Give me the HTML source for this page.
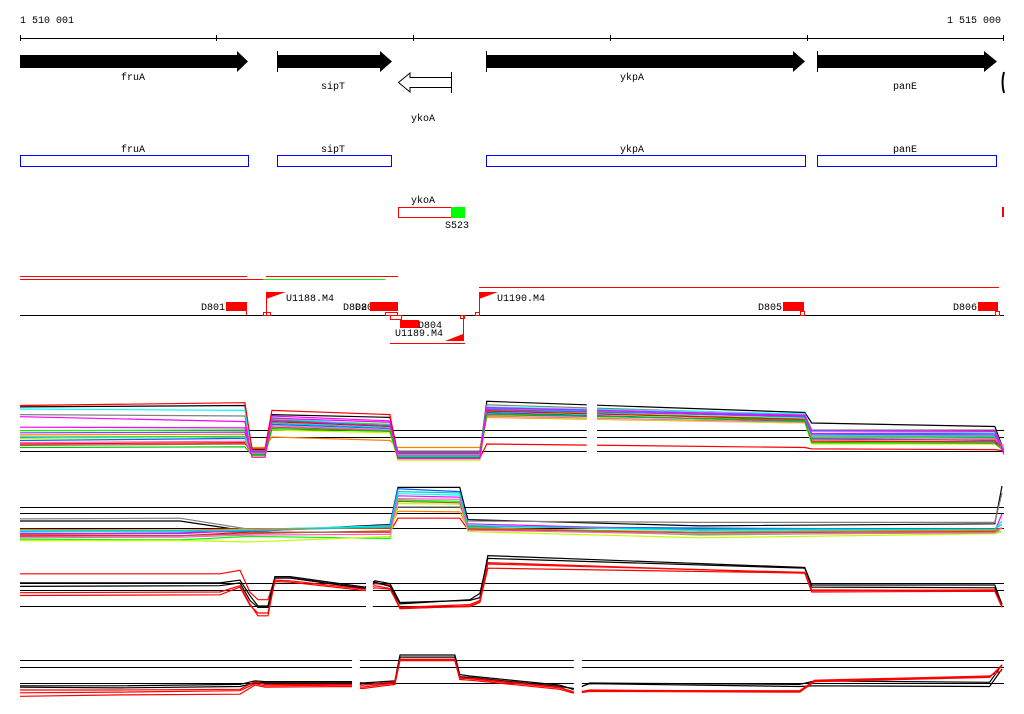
<!DOCTYPE html>
<html><head><meta charset="utf-8"><style>
html,body{margin:0;padding:0;background:#fff;width:1024px;height:714px;overflow:hidden}
svg{display:block}
text{font-family:"Liberation Mono",monospace;font-size:10px;fill:#000}
</style></head><body>
<svg id="chart" width="1024" height="714" viewBox="0 0 1024 714" xmlns="http://www.w3.org/2000/svg">
<g>
<text x="20" y="23">1 510 001</text>
<text x="1001" y="23" text-anchor="end">1 515 000</text>
<line x1="20" y1="38.5" x2="1004" y2="38.5" stroke="#000"/>
<path d="M20.5 35v6M216.5 35v6M413.5 35v6M610.5 35v6M807.5 35v6M1003.5 35v6" stroke="#000"/>
</g>
<g>
<polygon points="20,55 237,55 237,51 248,61.5 237,72 237,68 20,68" fill="#000"/>
<text x="133" y="80" text-anchor="middle">fruA</text>
<polygon points="277,55 380,55 380,51 392,61.5 380,72 380,68 277,68" fill="#000"/>
<line x1="277.5" y1="51" x2="277.5" y2="72" stroke="#000"/>
<text x="333" y="89" text-anchor="middle">sipT</text>
<polygon points="451.5,77.5 410,77.5 410,73 398.5,82.5 410,92 410,87.5 451.5,87.5" fill="#fff" stroke="#000"/>
<line x1="451.5" y1="72" x2="451.5" y2="93" stroke="#000"/>
<text x="423" y="121" text-anchor="middle">ykoA</text>
<polygon points="486,55 793,55 793,51 805,61.5 793,72 793,68 486,68" fill="#000"/>
<line x1="486.5" y1="51" x2="486.5" y2="72" stroke="#000"/>
<text x="632" y="80" text-anchor="middle">ykpA</text>
<polygon points="817,55 984,55 984,51 997,61.5 984,72 984,68 817,68" fill="#000"/>
<line x1="817.5" y1="51" x2="817.5" y2="72" stroke="#000"/>
<text x="905" y="89" text-anchor="middle">panE</text>
<path d="M1004 72 Q1001 82 1004 93" stroke="#000" stroke-width="2" fill="none"/>
</g>
<g>
<rect x="20.5" y="155.5" width="228" height="11" fill="none" stroke="#00f"/>
<text x="133" y="152" text-anchor="middle">fruA</text>
<rect x="277.5" y="155.5" width="114" height="11" fill="none" stroke="#00f"/>
<text x="333" y="152" text-anchor="middle">sipT</text>
<rect x="486.5" y="155.5" width="319" height="11" fill="none" stroke="#00f"/>
<text x="632" y="152" text-anchor="middle">ykpA</text>
<rect x="817.5" y="155.5" width="179" height="11" fill="none" stroke="#00f"/>
<text x="905" y="152" text-anchor="middle">panE</text>
<rect x="398.5" y="207.5" width="53" height="10" fill="none" stroke="#f00"/>
<rect x="451" y="207" width="14" height="11" fill="#0f0"/>
<text x="423" y="203" text-anchor="middle">ykoA</text>
<text x="445" y="228">S523</text>
<rect x="1002" y="207" width="2" height="10" fill="#f00"/>
</g>
<g>
<path d="M20 276.5H247M266 276.5H398M20 279.5H263" stroke="#f00"/>
<path d="M263 279.5H385" stroke="#0f0"/>
<path d="M479 287.5H999M390 343.5H465" stroke="#f00"/>
<line x1="20" y1="315.5" x2="1004" y2="315.5" stroke="#000"/>
<rect x="226" y="302" width="21" height="9" fill="#f00"/>
<path d="M246.5 311v4" stroke="#f00"/>
<text x="225" y="310" text-anchor="end">D801</text>
<path d="M266.5 292v23" stroke="#f00"/>
<polygon points="266,292 286,292 266,299" fill="#f00"/>
<rect x="263.5" y="312.5" width="7" height="3" fill="none" stroke="#f00"/>
<text x="286" y="301">U1188.M4</text>
<text x="343" y="310">D802</text><text x="355" y="310">D803</text>
<rect x="370" y="302" width="28" height="9" fill="#f00"/>
<rect x="385.5" y="312.5" width="12" height="3" fill="none" stroke="#f00"/>
<rect x="390.5" y="315.5" width="11" height="4" fill="none" stroke="#f00"/>
<rect x="400" y="320" width="19" height="8" fill="#f00"/>
<text x="418" y="328">D804</text>
<text x="395" y="336">U1189.M4</text>
<path d="M463.5 316v25" stroke="#f00"/>
<polygon points="463,341 445,341 463,334" fill="#f00"/>
<rect x="460.5" y="315.5" width="4" height="3" fill="none" stroke="#f00"/>
<path d="M479.5 292v23" stroke="#f00"/>
<polygon points="479,292 498,292 479,299" fill="#f00"/>
<rect x="475.5" y="312.5" width="4" height="3" fill="none" stroke="#f00"/>
<text x="497" y="301">U1190.M4</text>
<rect x="783" y="302" width="21" height="9" fill="#f00"/>
<rect x="800.5" y="311.5" width="4" height="4" fill="none" stroke="#f00"/>
<text x="782" y="310" text-anchor="end">D805</text>
<rect x="978" y="302" width="20" height="9" fill="#f00"/>
<rect x="995.5" y="311.5" width="4" height="4" fill="none" stroke="#f00"/>
<text x="977" y="310" text-anchor="end">D806</text>
</g>
<g id="panels"></g>
</svg>
<script>
// genome coordinates are offsets (bp) from 1 510 001
const GENOME_SPAN = 5000;
// Panel 1 (multi-colour profile bundle)
const p1Knots = [0,1143,1179,1245,1280,1880,1920,2337,2372,3988,4023,4953,5000];
const p1Ref = [3,2,0];
const p1Gaps = [[2880,2932]];
const p1Colors = ["#000","#808080","#f0f","#0f0","#0ff","#06f","#ff8000","#f00","#f00","#c0ff00","#a06040","#0cc","#ff60c0","#8040ff","#00c000","#f0f"];
const p1Series = [
 [6.3,6.5,0.2,0.2,5.2,4.8,-0.3,-0.3,7.1,5.5,4,3.5,0],
 [5.2,5.0,0,0,4.2,3.8,0,0,6.6,5.2,3.0,3.0,0],
 [4.9,4.2,-0.8,-0.8,5.0,4.3,-0.6,-0.6,6.0,5.0,2.5,2.5,-0.5],
 [2.9,3.0,-0.6,-0.6,4.5,3.8,-0.9,-0.9,5.8,4.6,2.0,2.0,0],
 [6.0,5.8,-0.2,-0.2,4.8,3.5,-0.4,-0.4,6.3,5.3,2.8,2.6,0],
 [1.5,1.8,-0.2,-0.2,3.8,3.2,-0.9,-0.9,5.5,4.2,1.8,1.5,0.3],
 [2.3,2.4,0.5,0.5,2.0,1.5,0.5,0.5,4.8,4.0,1.2,1.0,0.8],
 [6.5,6.9,0.3,0.3,5.8,5.2,-1.0,-1.0,1.0,0.5,0.3,0.2,0],
 [1.0,1.2,-0.5,-0.5,4.2,3.5,-0.3,-0.3,5.7,4.5,1.4,1.3,0],
 [1.8,2.0,-0.8,-0.8,3.0,2.6,-1.3,-1.3,4.9,4.0,1.0,1.0,0.2],
 [0.8,1.0,0,0,3.4,2.9,-0.2,-0.2,5.2,4.4,1.6,1.6,0.3],
 [2.0,2.1,-0.4,-0.4,4.0,3.3,-0.7,-0.7,6.1,4.8,2.2,2.1,0.1],
 [1.2,1.4,-0.3,-0.3,3.6,3.0,-0.5,-0.5,5.0,4.1,1.9,1.8,0.4],
 [2.6,2.7,-0.1,-0.1,4.4,3.6,-0.2,-0.2,5.9,4.9,2.4,2.3,0],
 [0.5,0.6,-0.6,-0.6,3.2,2.8,-1.0,-1.0,5.3,4.3,1.2,1.1,0],
 [3.4,3.3,-0.9,-0.9,4.7,4.1,-1.1,-1.1,6.2,5.1,2.9,2.8,-0.3]
];
// Panel 2
const p2Knots = [0,813,1168,1880,1920,2235,2276,3455,4953,4990];
const p2Ref = [3,2.1,0];
const p2Gaps = [];
const p2Colors = ["#000","#808080","#06f","#f0f","#f00","#0f0","#0ff","#ff8000","#c0ff00","#a06040","#ff60c0","#0cc"];
const p2Series = [
 [1.0,1.0,-0.5,0.5,5.8,5.8,1.2,0.3,0.6,6],
 [1.3,1.4,-0.2,0.2,3.0,3.0,1.0,0.8,0.8,5],
 [-0.5,-0.6,-0.5,0.4,5.6,5.2,0.2,0.0,-0.2,1],
 [-0.8,-0.8,-0.3,0.1,4.6,4.4,0.6,-0.3,-0.4,2],
 [-1.0,-1.1,-0.6,-0.6,1.4,1.4,-0.2,-0.6,-0.2,0],
 [-1.6,-1.7,-1.2,-1.5,4.0,3.8,0.1,-1.0,-0.6,-0.5],
 [-0.6,-0.5,-0.2,0.3,4.9,4.7,0.4,-0.4,-0.2,1],
 [-0.2,-0.3,-0.1,0.0,2.4,2.3,0.0,-0.6,-0.3,0],
 [-1.8,-1.8,-2.0,-1.2,3.5,3.4,-0.5,-1.4,-0.8,-0.5],
 [-1.2,-1.1,-0.8,-0.4,3.8,3.6,-0.1,-0.7,-0.5,0],
 [-1.4,-1.3,-1.0,-0.9,4.2,4.1,-0.3,-0.9,-0.7,0],
 [-0.4,-0.4,-0.4,0.2,5.2,5.0,0.3,-0.2,-0.1,0.5]
];
// Panel 3
const p3Knots = [0,1016,1118,1168,1209,1260,1295,1372,1753,1804,1880,1931,2286,2337,2377,3988,4023,4953,4990];
const p3Ref = [3.3,2.3,0];
const p3Gaps = [[1758,1793]];
const p3Colors = ["#f00","#000","#000","#f00","#f00"];
const p3Series = [
 [4.6,4.6,5.1,2,0.9,0.9,4.0,4.0,2.5,3.2,3.0,-0.3,-0.1,0.5,5.4,4.7,2.2,2.3,0],
 [3.3,3.3,3.7,1.5,0,0,4.2,4.2,2.7,3.6,3.2,0.5,0.8,1.2,7.2,5.5,3.0,3.0,0.2],
 [2.8,2.9,3.3,0.8,-0.2,-0.2,4.0,4.0,2.5,3.4,2.8,0.3,0.9,1.8,6.8,5.4,2.7,2.6,0.3],
 [1.9,2.0,2.9,0.3,-1.4,-1.4,3.7,3.6,2.4,2.9,2.5,-0.4,0,0.6,6.2,4.7,2.0,2.1,-0.2],
 [1.5,1.6,2.7,0.1,-1.0,-1.0,3.5,3.4,2.2,2.6,2.4,-0.2,0.2,0.8,6.0,4.8,2.3,2.2,0]
];
// Panel 4
const p4Knots = [0,508,1118,1194,1245,1687,1738,1905,1931,2210,2235,2286,2743,2819,2895,3962,4038,4927,4990];
const p4Ref = [3.3,2.3,0];
const p4Gaps = [[1687,1727],[2814,2855]];
const p4Colors = ["#000","#000","#f00","#f00","#f00"];
const p4Series = [
 [-0.4,-0.4,-0.2,0.3,0.2,0.2,0,0.3,4.0,4.0,1.2,1.0,-0.3,-1.0,0,-0.2,0.3,0.1,2.6],
 [-0.6,-0.7,-0.5,0.0,0.1,0.1,-0.3,0.1,3.7,3.7,0.9,0.8,-0.5,-0.8,-0.1,-0.5,-0.4,-0.5,2.0],
 [-1.4,-1.3,-1.1,-0.1,-0.4,-0.3,-0.6,0.0,3.3,3.3,0.6,0.7,-0.6,-1.4,-1.0,-1.2,0.3,0.9,2.4],
 [-1.9,-1.7,-1.6,-0.3,-0.6,-0.5,-0.8,-0.2,3.2,3.2,0.5,0.4,-0.9,-1.5,-1.2,-1.3,0.2,0.8,2.6],
 [-1.0,-1.0,-0.9,0.2,-0.2,-0.2,-0.3,0.2,3.4,3.4,0.8,0.6,-0.7,-1.3,-1.1,-1.1,0.4,1.0,1.8]
];

const NS = "http://www.w3.org/2000/svg";
const xScale = g => 20 + g * 984 / GENOME_SPAN;
const root = document.getElementById("panels");
function drawPanel(id, base, unit, knots, ref, gaps, colors, series) {
  const yScale = v => base - v * unit;
  const g = document.createElementNS(NS, "g");
  
  
  const cp = document.createElementNS(NS, "clipPath");
  cp.setAttribute("id", "clip" + id);
  let edges = [0].concat(...gaps.map(r => [r[0], r[1]])).concat([GENOME_SPAN]);
  for (let i = 0; i < edges.length; i += 2) {
    const r = document.createElementNS(NS, "rect");
    r.setAttribute("x", xScale(edges[i]));
    r.setAttribute("y", 0);
    r.setAttribute("width", xScale(edges[i + 1]) - xScale(edges[i]));
    r.setAttribute("height", 714);
    cp.appendChild(r);
  }
  g.appendChild(cp);
  const inner = document.createElementNS(NS, "g");
  inner.setAttribute("clip-path", "url(#clip" + id + ")");
  ref.forEach(v => {
    const l = document.createElementNS(NS, "line");
    
    
    l.setAttribute("x1", xScale(0)); l.setAttribute("x2", xScale(GENOME_SPAN));
    const y = Math.round(yScale(v)) + 0.5;
    l.setAttribute("y1", y); l.setAttribute("y2", y);
    l.setAttribute("stroke", "#000");
    inner.appendChild(l);
  });
  series.forEach((s, i) => {
    const p = document.createElementNS(NS, "polyline");
    
    
    p.setAttribute("points", s.map((v, k) => xScale(knots[k]).toFixed(1) + "," + yScale(v).toFixed(1)).join(" "));
    p.setAttribute("fill", "none");
    p.setAttribute("stroke", colors[i % colors.length]);
    p.setAttribute("stroke-width", "1.2");
    inner.appendChild(p);
  });
  g.appendChild(inner);
  root.appendChild(g);
}
drawPanel(1, 451, 7, p1Knots, p1Ref, p1Gaps, p1Colors, p1Series);
drawPanel(2, 528, 7, p2Knots, p2Ref, p2Gaps, p2Colors, p2Series);
drawPanel(3, 606, 7, p3Knots, p3Ref, p3Gaps, p3Colors, p3Series);
drawPanel(4, 683, 7, p4Knots, p4Ref, p4Gaps, p4Colors, p4Series);
</script>
</body></html>
